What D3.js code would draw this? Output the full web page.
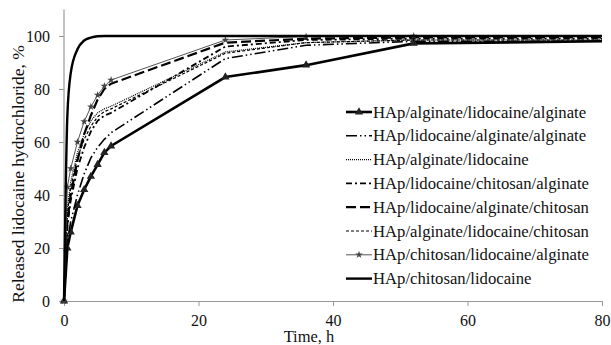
<!DOCTYPE html>
<html>
<head>
<meta charset="utf-8">
<script src="https://cdn.jsdelivr.net/npm/d3@7"></script>
<style>
  body { margin: 0; background: #fff; }
  text { font-family: "Liberation Serif", "Times New Roman", serif; fill: #111; }
</style>
</head>
<body>
<svg id="chart"></svg>
<script>
// release time points, h
var times = [0, 0.5, 1, 2, 3, 4, 5, 6, 7, 24, 36, 52, 80];

var algLidAlg    = [0, 20, 26, 36, 42, 47, 51.5, 56, 58.5, 84.5, 89, 97.2, 98];
var lidAlgAlg    = [0, 22, 30, 40, 48, 54, 58, 61, 63.5, 91.5, 96.5, 98, 98];
var algLid       = [0, 35, 45, 56, 63, 68, 71, 72.5, 73.5, 94, 97.5, 98.5, 98.5];
var lidChiAlg    = [0, 28, 38, 50, 58, 64, 68, 70, 71, 96, 98.5, 99, 99];
var lidAlgChi    = [0, 30, 40, 53, 63, 70, 76, 80, 82, 97.5, 99, 99.5, 99.5];
var algLidChi    = [0, 33, 43, 54, 61, 66, 69.5, 71.5, 72.5, 93.5, 97.5, 98.5, 98.5];
var chiLidAlg    = [0, 43, 50, 60, 67.7, 73.3, 77.7, 81.1, 83.4, 98.5, 99.8, 100, 100];
var chiLid       = [0, 70, 86, 95, 98.3, 99.4, 99.9, 100, 100, 100, 100, 100, 100];

var names = [
  "HAp/alginate/lidocaine/alginate",
  "HAp/lidocaine/alginate/alginate",
  "HAp/alginate/lidocaine",
  "HAp/lidocaine/chitosan/alginate",
  "HAp/lidocaine/alginate/chitosan",
  "HAp/alginate/lidocaine/chitosan",
  "HAp/chitosan/lidocaine/alginate",
  "HAp/chitosan/lidocaine"
];
var xTicks = [0, 20, 40, 60, 80];
var yTicks = [0, 20, 40, 60, 80, 100];

var series = [
  {name: names[0], values: algLidAlg, width: 2.6, dash: null, color: "#000", marker: "tri"},
  {name: names[1], values: lidAlgAlg, width: 1.6, dash: "11,3,1.5,3,1.5,3", color: "#000"},
  {name: names[2], values: algLid, width: 1.2, dash: "1,1", color: "#000"},
  {name: names[3], values: lidChiAlg, width: 1.8, dash: "6,3,2,3", color: "#000"},
  {name: names[4], values: lidAlgChi, width: 2.2, dash: "10,4", color: "#000"},
  {name: names[5], values: algLidChi, width: 1.2, dash: "3,2", color: "#000"},
  {name: names[6], values: chiLidAlg, width: 1, dash: null, color: "#555", marker: "star"},
  {name: names[7], values: chiLid, width: 2.4, dash: null, color: "#000", smooth: true}
];

var W = 611, H = 345;
var serif = "'Liberation Serif', 'Times New Roman', serif";
var svg = d3.select("#chart").attr("width", W).attr("height", H);

var x = d3.scaleLinear().domain([0, 80]).range([64, 602]);
var y = d3.scaleLinear().domain([0, 110]).range([301, 9.5]);

// axes
var xAxis = svg.append("g")
    .attr("transform", "translate(0," + y(0) + ")")
    .call(d3.axisBottom(x).tickValues(xTicks).tickSize(5).tickSizeOuter(0).tickPadding(9));
var yAxis = svg.append("g")
    .attr("transform", "translate(" + x(0) + ",0)")
    .call(d3.axisLeft(y).tickValues(yTicks).tickSize(5).tickSizeOuter(0).tickPadding(9));
[xAxis, yAxis].forEach(function(a) {
  a.attr("font-family", serif);
  a.select(".domain").attr("stroke", "#999").attr("stroke-width", 1.2);
  a.selectAll(".tick line").attr("stroke", "#999");
  a.selectAll(".tick text")
    .style("font-family", serif)
    .style("font-size", "16px")
    .attr("fill", "#111");
});
yAxis.select(".domain").attr("d", "M0," + y(0) + "V9.5");

svg.append("text")
    .attr("transform", "translate(24,174) rotate(-90)")
    .attr("text-anchor", "middle")
    .style("font-size", "17.5px")
    .text("Released lidocaine hydrochloride, %");

svg.append("text")
    .attr("x", 309).attr("y", 342)
    .attr("text-anchor", "middle")
    .style("font-size", "16.5px")
    .text("Time, h");

var plot = svg.append("g");

series.forEach(function(s) {
  var pts = times.map(function(t, i) { return [t, s.values[i]]; });
  var line = d3.line()
      .x(function(d) { return x(d[0]); })
      .y(function(d) { return y(d[1]); })
      .curve(s.smooth ? d3.curveMonotoneX : d3.curveLinear);
  plot.append("path")
      .datum(pts)
      .attr("d", line)
      .attr("fill", "none")
      .attr("stroke", s.color)
      .attr("stroke-width", s.width)
      .attr("stroke-dasharray", s.dash);
  if (s.marker) {
    var sym = d3.symbol()
        .type(s.marker == "tri" ? d3.symbolTriangle : d3.symbolStar)
        .size(s.marker == "tri" ? 30 : 18);
    plot.selectAll(null)
        .data(pts.slice(0, -1))
        .enter().append("path")
        .attr("d", sym)
        .attr("transform", function(d) { return "translate(" + x(d[0]) + "," + y(d[1]) + ")"; })
        .attr("fill", s.marker == "tri" ? "#222" : "#444");
  }
});

// legend
var legend = svg.append("g");
series.forEach(function(s, i) {
  var ly = 112 + i * 23.8;
  legend.append("line")
      .attr("x1", 346).attr("x2", 372)
      .attr("y1", ly).attr("y2", ly)
      .attr("stroke", s.color)
      .attr("stroke-width", s.width)
      .attr("stroke-dasharray", s.dash);
  if (s.marker) {
    legend.append("path")
        .attr("d", d3.symbol()
            .type(s.marker == "tri" ? d3.symbolTriangle : d3.symbolStar)
            .size(s.marker == "tri" ? 30 : 18))
        .attr("transform", "translate(359," + ly + ")")
        .attr("fill", s.marker == "tri" ? "#222" : "#444");
  }
  legend.append("text")
      .attr("x", 373).attr("y", ly + 5.5)
      .style("font-size", "16.7px")
      .text(s.name);
});
</script>
</body>
</html>
